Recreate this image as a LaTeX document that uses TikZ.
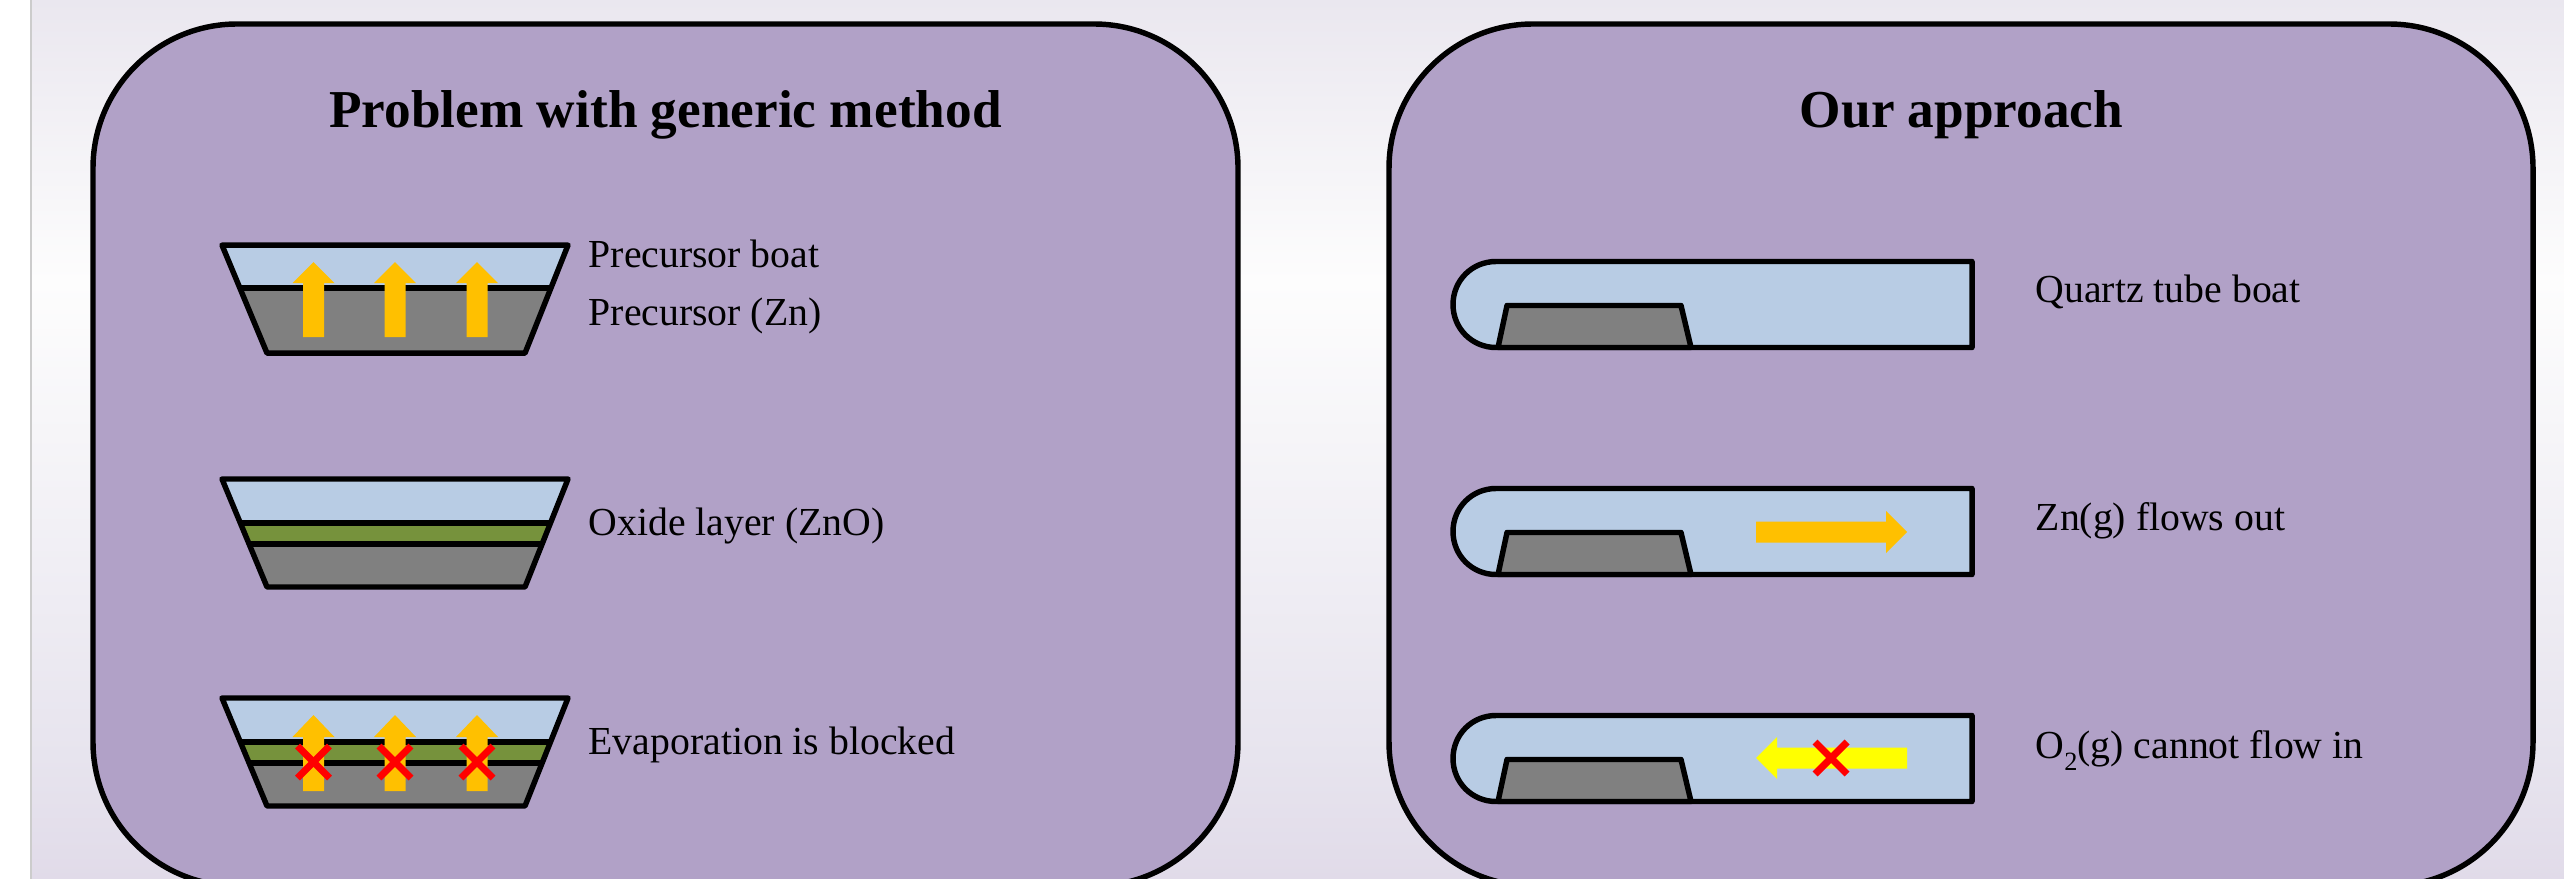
\documentclass[tikz,border=0pt]{standalone}
\usepackage{fontspec}
\setmainfont{Liberation Serif}

\definecolor{backTop}{HTML}{EAE7EF}
\definecolor{backLight}{HTML}{FDFDFD}
\definecolor{backLow}{HTML}{E7E4EE}
\definecolor{backBottom}{HTML}{E1DBE9}
\pgfdeclareverticalshading{slideBack}{100bp}{color(0bp)=(backBottom); color(25bp)=(backBottom); color(32bp)=(backLow); color(59bp)=(backLight); color(75bp)=(backTop); color(100bp)=(backTop)}

\begin{document}
\begin{tikzpicture}[x=0.01cm, y=-0.01cm,
    outline/.style={draw=black, line width=1.55pt, line join=round},
    block/.style={fill=#1, draw=none},
    crossLine/.style={draw=red, line width=2pt},
    heading/.style={anchor=base, inner sep=0pt, font=\fontsize{15.15}{18}\selectfont\bfseries},
    label/.style={anchor=base west, inner sep=0pt, font=\fontsize{11.3}{14}\selectfont}]

    \definecolor{panelColour}{HTML}{B1A1C7}
    \definecolor{airColour}{HTML}{B8CCE4}
    \definecolor{zincColour}{HTML}{808080}
    \definecolor{oxideColour}{HTML}{76923C}
    \definecolor{flowColour}{HTML}{FFC000}
    \definecolor{oxygenColour}{HTML}{FFFF00}

    \useasboundingbox (0,0) rectangle (2564,879);

    % Slide background
    \fill[shading=slideBack] (31,0) rectangle (2564,879);
    \draw[color=black!20, line width=0.6pt] (31,0) -- (31,879);

    % Panels
    \draw[outline, fill=panelColour, rounded corners=1.44cm] (93,24) rectangle (1238,886);
    \draw[outline, fill=panelColour, rounded corners=1.44cm] (1389,24) rectangle (2533,886);

    \node[heading] (titleLeft) at (665.5,127.5) {Problem with generic method};
    \node[heading] (titleRight) at (1961.5,127.5) {Our approach};

    % Precursor boat, plain
    \begin{scope}[yshift=-2.45cm]
        \fill[airColour] (222,0) -- (568,0) -- (525,108) -- (267,108) -- cycle;
        \fill[zincColour] (240,43) -- (550,43) -- (525,108) -- (267,108) -- cycle;
        \draw[outline] (240,43) -- (550,43);
        \draw[outline] (222,0) -- (568,0) -- (525,108) -- (267,108) -- cycle;
        \foreach \x in {313.5,395,477}
            \fill[block=flowColour] (\x-10.5,92) -- (\x+10.5,92) -- (\x+10.5,38) -- (\x+21,38)
                -- (\x,17) -- (\x-21,38) -- (\x-10.5,38) -- cycle;
    \end{scope}

    % Boats with oxide layer
    \foreach \top in {479,698} {
        \begin{scope}[yshift=-\top*0.01cm]
            \fill[airColour] (222,0) -- (568,0) -- (525,108) -- (267,108) -- cycle;
            \fill[oxideColour] (240,44) -- (550,44) -- (541,65) -- (249,65) -- cycle;
            \fill[zincColour] (249,65) -- (541,65) -- (525,108) -- (267,108) -- cycle;
            \draw[outline] (240,44) -- (550,44);
            \draw[outline] (249,65) -- (541,65);
            \draw[outline] (222,0) -- (568,0) -- (525,108) -- (267,108) -- cycle;
        \end{scope}
    }

    % Blocked evaporation
    \foreach \x in {313.5,395,477} {
        \fill[block=flowColour] (\x-10.5,791) -- (\x+10.5,791) -- (\x+10.5,737) -- (\x+21,737)
            -- (\x,715) -- (\x-21,737) -- (\x-10.5,737) -- cycle;
        \draw[crossLine] (\x-16,746) -- (\x+16,778);
        \draw[crossLine] (\x-16,778) -- (\x+16,746);
    }

    \node[label] (lblBoat) at (588,267) {Precursor boat};
    \node[label] (lblZinc) at (588,325) {Precursor (Zn)};
    \node[label] (lblOxide) at (588,535) {Oxide layer (ZnO)};
    \node[label] (lblBlocked) at (588,754) {Evaporation is blocked};

    % Quartz tube boats
    \foreach \top in {261.5,488.5,715.5} {
        \begin{scope}[yshift=-\top*0.01cm]
            \draw[outline, fill=airColour] (1496,0) -- (1972,0) -- (1972,86) -- (1496,86)
                .. controls (1472,86) and (1453,67) .. (1453,43)
                .. controls (1453,19) and (1472,0) .. (1496,0) -- cycle;
            \draw[outline, fill=zincColour] (1498,86) -- (1507,44) -- (1681,44) -- (1691,86) -- cycle;
        \end{scope}
    }

    % Flow arrows
    \fill[block=flowColour] (1756,521.5) -- (1886,521.5) -- (1886,511) -- (1907,532)
        -- (1886,553) -- (1886,542.5) -- (1756,542.5) -- cycle;
    \fill[block=oxygenColour] (1907,747.5) -- (1777,747.5) -- (1777,737) -- (1756,758)
        -- (1777,779) -- (1777,768.5) -- (1907,768.5) -- cycle;
    \draw[crossLine] (1815,742) -- (1847,774);
    \draw[crossLine] (1815,774) -- (1847,742);

    \node[label] (lblTube) at (2035,302) {Quartz tube boat};
    \node[label] (lblOut) at (2035,530.5) {Zn(g) flows out};
    \node[label] (lblIn) at (2035,758.5) {O\raisebox{-0.3em}{\fontsize{7.5}{9}\selectfont 2}(g) cannot flow in};

\end{tikzpicture}
\end{document}
